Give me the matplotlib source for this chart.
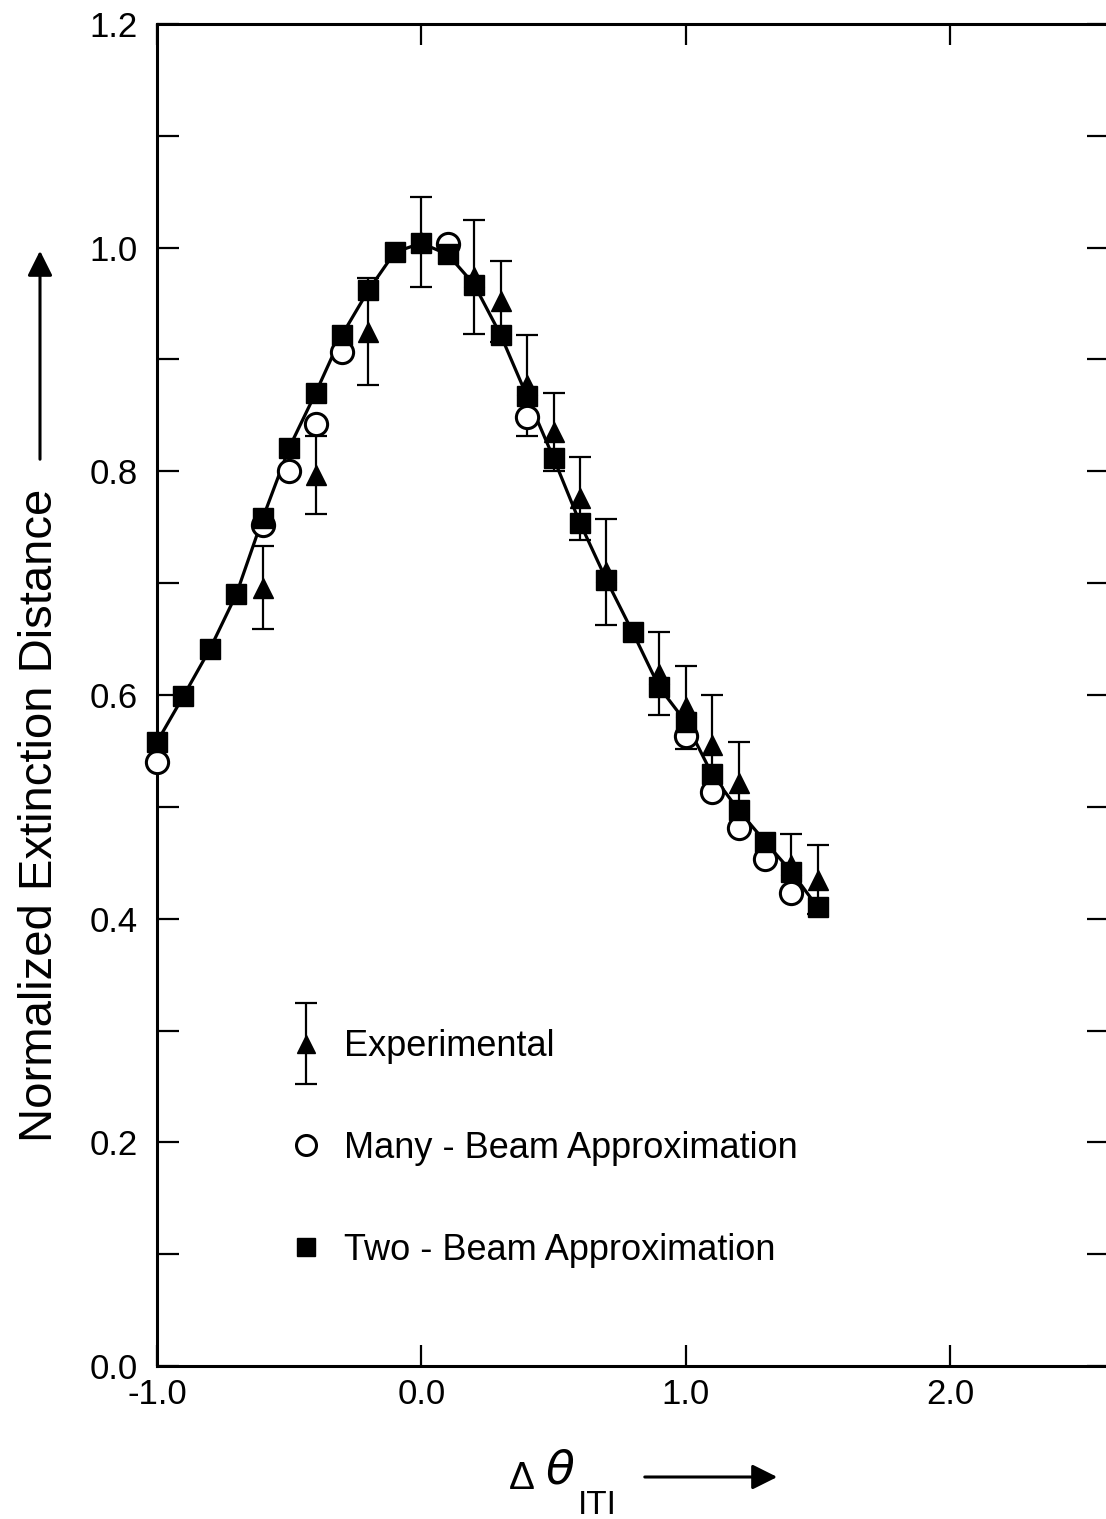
import numpy as np
import matplotlib
matplotlib.use("Agg")
from matplotlib import pyplot as plt
from matplotlib.container import ErrorbarContainer
from matplotlib.legend_handler import HandlerErrorbar

plt.rcParams['font.family'] = ['Liberation Sans', 'DejaVu Sans']
plt.rcParams['mathtext.fontset'] = 'dejavusans'

# two-beam approximation (filled squares, joined by the line)
two_x = [-1.0, -0.9, -0.8, -0.7, -0.6, -0.5, -0.4, -0.3, -0.2, -0.1, 0.0, 0.1, 0.2,
         0.3, 0.4, 0.5, 0.6, 0.7, 0.8, 0.9, 1.0, 1.1, 1.2, 1.3, 1.4, 1.5]
two_y = [0.558, 0.599, 0.641, 0.690, 0.758, 0.821, 0.870, 0.922, 0.962, 0.996, 1.004, 0.994, 0.967,
         0.922, 0.867, 0.812, 0.754, 0.703, 0.656, 0.607, 0.576, 0.529, 0.497, 0.469, 0.442, 0.410]

# many-beam approximation (open circles)
many_x = [-1.0, -0.6, -0.5, -0.4, -0.3, 0.1, 0.4, 1.0, 1.1, 1.2, 1.3, 1.4]
many_y = [0.540, 0.752, 0.800, 0.842, 0.907, 1.003, 0.849, 0.563, 0.513, 0.481, 0.453, 0.423]

# experimental (filled triangles with error bars)
exp_x = [-0.6, -0.4, -0.2, 0.0, 0.2, 0.3, 0.4, 0.5, 0.6, 0.7, 0.9, 1.0, 1.1, 1.2, 1.4, 1.5]
exp_y = [0.696, 0.797, 0.925, 1.005, 0.974, 0.952, 0.877, 0.835, 0.776, 0.710, 0.619, 0.589,
         0.555, 0.521, 0.448, 0.435]
exp_err = [0.037, 0.035, 0.048, 0.040, 0.051, 0.036, 0.045, 0.035, 0.037, 0.047, 0.037, 0.037,
           0.045, 0.037, 0.028, 0.031]

xtick_pos = [-1.0, 0.0, 1.0, 2.0]
xtick_lab = ['-1.0', '0.0', '1.0', '2.0']
ytick_pos = [0.0, 0.2, 0.4, 0.6, 0.8, 1.0, 1.2]
ytick_lab = ['0.0', '0.2', '0.4', '0.6', '0.8', '1.0', '1.2']

W, H = 1106, 1519
fig = plt.figure(figsize=(W / 100, H / 100), dpi=100)
ax = fig.add_axes([157 / W, 153 / H, 951.6 / W, 1342 / H])

eb = ax.errorbar(exp_x, exp_y, yerr=exp_err, fmt='^', color='black', ms=15,
                 elinewidth=1.6, capsize=8, capthick=1.6, zorder=2.5,
                 label='Experimental')
ax.plot(two_x, two_y, '-', color='black', lw=2.3, zorder=3)
circ, = ax.plot(many_x, many_y, 'o', ms=16, mfc='white', mec='black', mew=2.2,
                zorder=3.5, clip_on=False, label='Many - Beam Approximation')
sq, = ax.plot(two_x, two_y, 's', ms=14.5, color='black', zorder=4, clip_on=False,
              label='Two - Beam Approximation')

ax.set_xlim(-1.0, 2.6)
ax.set_ylim(0.0, 1.2)

ax.set_xticks(xtick_pos)
ax.set_xticklabels(xtick_lab)
ax.set_yticks(ytick_pos)
ax.set_yticklabels(ytick_lab)
ax.set_yticks(np.arange(0.1, 1.2, 0.2), minor=True)

ax.tick_params(axis='y', which='both', direction='in', length=16, width=1.6,
               left=True, right=True, labelsize=25, pad=14)
ax.tick_params(axis='x', which='major', direction='in', length=15, width=1.6,
               top=True, bottom=True, labelsize=25, pad=9)

for s in ['left', 'top', 'bottom']:
    ax.spines[s].set_linewidth(2.2)
ax.spines['right'].set_visible(False)

leg = ax.legend(handles=[eb, circ, sq], frameon=False, fontsize=26,
                loc='center left', bbox_to_anchor=(0.138, 0.162),
                borderpad=0, borderaxespad=0, handlelength=1.0,
                handletextpad=0.55, labelspacing=1.85, numpoints=1, markerscale=0.9,
                handler_map={ErrorbarContainer: HandlerErrorbar(yerr_size=1.13)})

# y label with arrow
fig.text(40 / W, 1 - 815 / H, 'Normalized Extinction Distance', rotation=90,
         ha='center', va='center', fontsize=34)
ax.annotate('', xy=(40 / W, 1 - 248 / H), xytext=(40 / W, 1 - 462 / H),
            xycoords='figure fraction', textcoords='figure fraction',
            arrowprops=dict(arrowstyle='-|>', lw=2.2, color='black', mutation_scale=38))

# x label with arrow
fig.text(522 / W, 1 - 1479 / H, 'Δ', ha='center', va='center', fontsize=28)
fig.text(560 / W, 1 - 1471 / H, r'$\theta$', ha='center', va='center', fontsize=34)
fig.text(597 / W, 1 - 1505 / H, 'ITI', ha='center', va='center', fontsize=24)
ax.annotate('', xy=(780 / W, 1 - 1477 / H), xytext=(642 / W, 1 - 1477 / H),
            xycoords='figure fraction', textcoords='figure fraction',
            arrowprops=dict(arrowstyle='-|>', lw=2.2, color='black', mutation_scale=38))

fig.savefig('out.png', dpi=100)
